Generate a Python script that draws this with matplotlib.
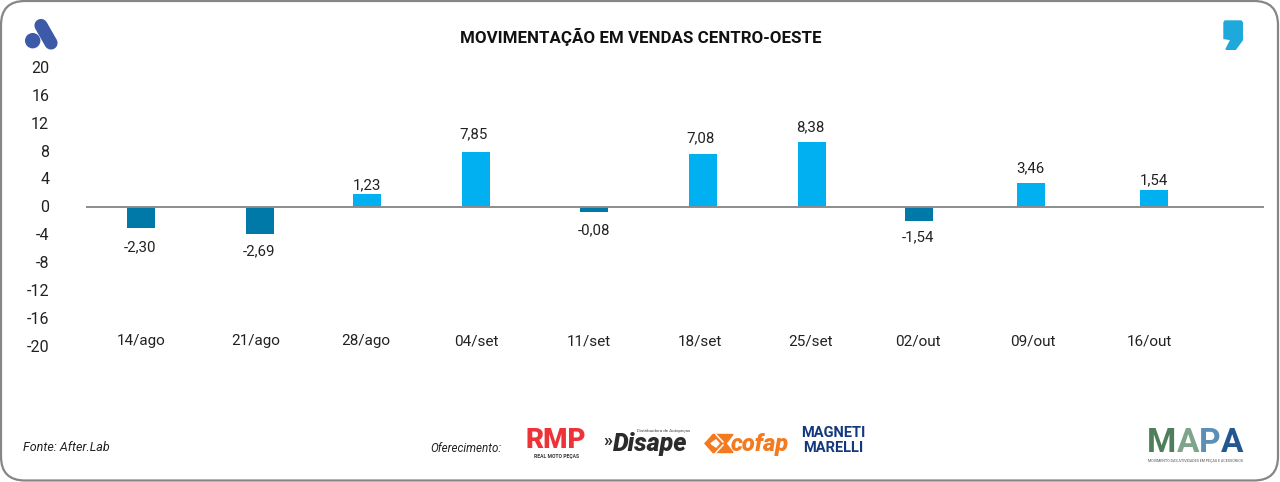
import matplotlib
matplotlib.use('Agg')
import matplotlib.pyplot as plt
from matplotlib.patches import FancyBboxPatch, Circle, Polygon
from matplotlib.lines import Line2D
from matplotlib.transforms import ScaledTranslation

plt.rcParams['font.family'] = ['Roboto', 'DejaVu Sans']

W, H = 1280, 482

# the bars in the picture don't have the height their labels say, so both are kept
categories = ['14/ago', '21/ago', '28/ago', '04/set', '11/set', '18/set', '25/set', '02/out', '09/out', '16/out']
bar_values = [-3.0, -3.78, 1.97, 7.96, -0.66, 7.67, 9.4, -1.95, 3.55, 2.5]
bar_labels = ['-2,30', '-2,69', '1,23', '7,85', '-0,08', '7,08', '8,38', '-1,54', '3,46', '1,54']
y_ticks = [20, 16, 12, 8, 4, 0, -4, -8, -12, -16, -20]

# pixel columns, the reference is not evenly spaced
bar_x = [140.7, 259.5, 367, 476, 594, 703, 811.7, 919, 1031, 1153.7]
cat_x = [141.5, 256, 366, 476, 589, 700, 811, 918, 1033, 1149]
val_x = [140, 259, 367, 474, 594, 701, 810, 918, 1030, 1154]
val_y = [247, 251, 185, 134, 230.7, 138, 127, 237, 168, 180]

dark_bar = '#0079a8'
light_bar = '#00b0f0'
text_col = '#222222'

fig = plt.figure(figsize=(W/100, H/100), dpi=100)
bg = fig.add_axes([0, 0, 1, 1])
bg.set_xlim(0, W)
bg.set_ylim(H, 0)
bg.axis('off')

# rounded frame
bg.add_patch(FancyBboxPatch((1, 1), W-3, H-2.5, boxstyle='round,pad=0,rounding_size=24',
                            fc='white', ec='#85868a', lw=1.6))

# plot area: x in pixels, y axis runs over pixel rows 68 to 346.5
ax = fig.add_axes([52/W, 1-346.5/H, (W-52)/W, 278.5/H])
ax.patch.set_alpha(0)
ax.set_xlim(52, W)
ax.set_ylim(-20, 20)
for s in ax.spines.values():
    s.set_visible(False)
ax.set_xticks([])
ax.set_yticks(y_ticks)
ax.set_yticklabels([str(t) for t in y_ticks], fontsize=11.5, color=text_col)
ax.tick_params(axis='y', length=0, pad=2)
# tick labels sit a pixel higher than the ticks
nudge = ScaledTranslation(0, 1/100, fig.dpi_scale_trans)
for lab in ax.get_yticklabels():
    lab.set_transform(lab.get_transform() + nudge)

colors = [light_bar if v > 0 else dark_bar for v in bar_values]
ax.bar(bar_x, bar_values, width=28, color=colors, zorder=2)
ax.plot([86.5, 1262.5], [0, 0], color='#8c8c8c', lw=1.4, zorder=3)

for x, y, lab in zip(val_x, val_y, bar_labels):
    bg.text(x, y, lab, ha='center', va='center', fontsize=10.8, color=text_col)

for x, c in zip(cat_x, categories):
    bg.text(x, 341.5, c, ha='center', va='center', fontsize=11, color=text_col)

bg.text(640.5, 37, 'MOVIMENTAÇÃO EM VENDAS CENTRO-OESTE', ha='center', va='center',
        fontsize=12.15, fontweight='bold', color='#111111')

# left logo
blue = '#3d5aa9'
bg.add_patch(Circle((32.7, 40.7), 7, color=blue))
bg.add_line(Line2D([41, 51], [25.5, 43], color=blue, lw=9.5, solid_capstyle='round'))

# comma logo, top right
bg.add_patch(Polygon([(1225, 21), (1241, 21), (1242.3, 22.5), (1242.3, 40), (1235.5, 49.3), (1226, 49.3),
                      (1231, 39.5), (1224, 38.5), (1224, 22.5)], closed=True, color='#1fa8dc'))

# footer
bg.text(23, 447.5, 'Fonte: After.Lab', ha='left', va='center', fontsize=9, style='italic', color=text_col)
bg.text(430, 449, 'Oferecimento:', ha='left', va='center', fontsize=8.4, style='italic', color=text_col)

# sponsor logos, redrawn with text where they have letters
bg.text(556, 440, 'RMP', ha='center', va='center', fontsize=20, fontweight='black', color='#ee3338')
bg.text(556, 456.5, 'REAL MOTO PEÇAS', ha='center', va='center', fontsize=3.6, fontweight='bold', color='#333333')
bg.text(603, 441, '»', ha='left', va='center', fontsize=13, fontweight='bold', color='#2b2b2b')
bg.text(613, 451.5, 'Disape', ha='left', va='baseline', fontsize=18, fontweight='black', style='italic',
        color='#2b2b2b')
bg.text(690, 431, 'Distribuidora de Autopeças', ha='right', va='center', fontsize=3.2, color='#444444')

bg.add_patch(Polygon([(705, 443.5), (713, 434.5), (733, 434.5), (726, 443.5), (733, 452.5), (713, 452.5)],
                     closed=True, color='#f47a20'))
bg.add_patch(Polygon([(711, 443.5), (716, 440), (719, 443.5), (716, 447)], closed=True, color='white'))
bg.add_line(Line2D([716, 723], [434.5, 442], color='white', lw=1.1))
bg.add_line(Line2D([716, 723], [452.5, 445], color='white', lw=1.1))
bg.text(731, 444, 'cofap', ha='left', va='center', fontsize=17, fontweight='black', style='italic',
        color='#f47a20')

bg.text(833, 433, 'MAGNETI', ha='center', va='center', fontsize=10.5, fontweight='bold', color='#14387f')
bg.text(833, 448, 'MARELLI', ha='center', va='center', fontsize=10.5, fontweight='bold', color='#14387f')

# MAPA logo
for ch, x, c in zip('MAPA', [1161.7, 1188, 1210, 1232], ['#4f7f5a', '#7ea58b', '#5b8fb8', '#24578f']):
    bg.text(x, 443, ch, ha='center', va='center', fontsize=24, fontweight='bold', color=c)
bg.text(1195, 461, 'MOVIMENTO DAS ATIVIDADES EM PEÇAS E ACESSÓRIOS', ha='center', va='center',
        fontsize=2.7, color='#555555')

fig.savefig('out.png', dpi=100)
